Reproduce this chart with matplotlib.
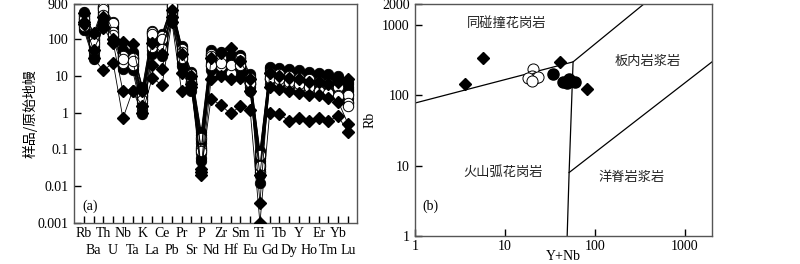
import matplotlib
matplotlib.use("Agg")
import matplotlib.pyplot as plt
from matplotlib.ticker import FixedLocator, NullLocator

plt.rcParams['font.family'] = ['Liberation Serif', 'Noto Sans CJK SC']
plt.rcParams['font.size'] = 10

# ---------------- data: panel (a) ----------------
elements = ["Rb", "Ba", "Th", "U", "Nb", "Ta", "K", "La", "Ce", "Pb", "Pr", "Sr", "P", "Nd",
            "Zr", "Hf", "Sm", "Eu", "Ti", "Gd", "Tb", "Dy", "Y", "Ho", "Er", "Tm", "Yb", "Lu"]

filled_circles = [
    [450, 120, 700, 250, 45, 40, 4.5, 150, 130, 800, 60, 12, 0.25, 45, 40, 35, 35, 10, 0.08, 16, 15, 14, 13, 12, 11, 10, 9, 6],
    [300, 60, 500, 180, 30, 28, 2.5, 100, 90, 600, 40, 8, 0.12, 30, 28, 25, 25, 7, 0.04, 12, 12, 11, 10, 9, 8, 7, 6, 4],
    [200, 35, 300, 120, 20, 18, 1.2, 50, 45, 400, 22, 5, 0.06, 18, 15, 13, 14, 5, 0.02, 8, 8, 7, 7, 6, 5, 4.5, 4, 2.5],
    [380, 90, 600, 220, 38, 35, 3.5, 120, 110, 700, 50, 10, 0.18, 38, 33, 30, 30, 8.5, 0.06, 14, 13, 12, 11, 10, 9, 8.5, 7.5, 5],
    [250, 45, 400, 150, 25, 22, 1.8, 70, 60, 500, 28, 6, 0.08, 22, 20, 17, 18, 6, 0.03, 10, 10, 9, 8.5, 7.5, 6.5, 6, 5, 3.2],
    [550, 140, 800, 300, 50, 45, 5, 170, 140, 850, 65, 13, 0.3, 50, 45, 38, 38, 11, 0.09, 17, 16, 15, 14, 13, 12, 11, 10, 7],
    [180, 28, 250, 100, 15, 14, 0.9, 40, 35, 300, 18, 4, 0.05, 14, 12, 11, 11, 4, 0.012, 6, 6, 5.5, 5.5, 5, 4.5, 4, 3.5, 2],
    [320, 70, 550, 200, 33, 30, 3, 90, 80, 650, 35, 9, 0.15, 28, 25, 22, 22, 7.5, 0.05, 13, 12, 11, 10, 9, 8, 7.5, 7, 4.5],
]
open_circles = [
    [420, 100, 750, 270, 35, 30, 2.8, 160, 120, 800, 55, 11, 0.2, 40, 30, 20, 30, 9, 0.07, 12, 11, 10, 9, 8, 7, 6, 5, 3],
    [230, 50, 650, 160, 22, 20, 1.5, 140, 100, 550, 45, 7, 0.1, 35, 18, 12, 25, 6, 0.025, 8, 7, 6, 5, 4.5, 4, 3.5, 3, 1.8],
    [350, 80, 450, 130, 28, 25, 2.2, 60, 55, 450, 30, 7, 0.09, 20, 22, 20, 20, 6.5, 0.035, 9, 8, 7, 6, 5, 4, 3.5, 2.8, 1.5],
]
diamonds = [
    [250, 30, 14, 23, 0.7, 4, 1, 9, 5.5, 300, 3.8, 6, 0.025, 2.4, 1.6, 0.95, 1.5, 1.2, 0.001, 1.0, 0.9, 0.6, 0.7, 0.6, 0.7, 0.6, 0.8, 0.3],
    [500, 150, 400, 100, 83, 73, 4, 80, 40, 600, 40, 10, 0.03, 30, 41, 57, 25, 8, 0.0035, 12, 10, 9, 8, 7, 7, 6, 7, 8],
    [300, 50, 200, 80, 3.8, 3.8, 1.5, 20, 15, 400, 12, 5, 0.02, 8, 10, 8, 9, 4, 0.02, 5, 4.5, 4, 3.5, 3, 3, 2.5, 2, 0.5],
]
a_yticks = [0.001, 0.01, 0.1, 1, 10, 100, 900]
a_yticklabels = ["0.001", "0.01", "0.1", "1", "10", "100", "900"]

# ---------------- data: panel (b) ----------------
b_diamond_x = [3.6, 5.7, 41, 81]
b_diamond_y = [146, 340, 299, 124]
b_filled_x = [34, 44, 52, 60, 49]
b_filled_y = [202, 155, 172, 155, 150]
b_open_x = [20.5, 20, 21.5, 18, 23, 20]
b_open_y = [238, 190, 178, 178, 183, 162]

# field boundaries (Y+Nb, Rb)
line1_x = [1, 57, 350]
line1_y = [78, 300, 2000]
line2_x = [57, 51.5, 49]
line2_y = [300, 8, 1]
line3_x = [51.5, 2000]
line3_y = [8, 300]
b_ticks = [1, 10, 100, 1000]
b_yticks = [1, 10, 100, 1000, 2000]

fig = plt.figure(figsize=(8, 2.64), dpi=100)

# ---------------- panel (a) ----------------
ax1 = fig.add_axes([0.0925, 0.155, 0.3535, 0.83])
xs = list(range(len(elements)))
for s in filled_circles:
    ax1.plot(xs, s, '-', color='black', lw=0.6, marker='o', ms=7.5,
             mfc='black', mec='black', mew=0.6, zorder=2)
for s in open_circles:
    ax1.plot(xs, s, '-', color='black', lw=0.6, marker='o', ms=7.5,
             mfc='white', mec='black', mew=0.7, zorder=3)
for s in diamonds:
    ax1.plot(xs, s, '-', color='black', lw=0.6, marker='D', ms=6,
             mfc='black', mec='black', zorder=4)
ax1.set_yscale('log')
ax1.set_ylim(0.001, 900)
ax1.set_xlim(-1.0, 27.9)
ax1.yaxis.set_major_locator(FixedLocator(a_yticks))
ax1.yaxis.set_minor_locator(NullLocator())
ax1.set_yticklabels(a_yticklabels)
even = xs[0::2]
odd = xs[1::2]
ax1.set_xticks(even)
ax1.set_xticklabels(elements[0::2])
ax1.set_xticks(odd, minor=True)
ax1.set_xticklabels(elements[1::2], minor=True)
ax1.tick_params(axis='both', which='both', direction='in', length=5, width=1,
                colors='black', labelsize=10)
ax1.tick_params(axis='x', which='major', pad=3)
ax1.tick_params(axis='x', which='minor', pad=15)
ax1.tick_params(axis='y', pad=4)
ax1.set_ylabel("样品/原始地幔", family=['Noto Sans CJK SC'], fontsize=10, labelpad=0)
ax1.text(0.03, 0.06, "(a)", transform=ax1.transAxes, fontsize=10)
for sp in ax1.spines.values():
    sp.set_color('#555555')
    sp.set_linewidth(1)

# ---------------- panel (b) ----------------
ax2 = fig.add_axes([0.519, 0.106, 0.371, 0.879])
ax2.plot(line1_x, line1_y, color='black', lw=0.9)
ax2.plot(line2_x, line2_y, color='black', lw=0.9)
ax2.plot(line3_x, line3_y, color='black', lw=0.9)
ax2.plot(b_diamond_x, b_diamond_y, 'D', ms=6.5, mfc='black', mec='black', zorder=4)
ax2.plot(b_filled_x, b_filled_y, 'o', ms=8, mfc='black', mec='black', zorder=4)
ax2.plot(b_open_x, b_open_y, 'o', ms=8, mfc='white', mec='black', mew=0.7, zorder=5)
ax2.set_xscale('log')
ax2.set_yscale('log')
ax2.set_xlim(1, 2000)
ax2.set_ylim(1, 2000)
ax2.xaxis.set_major_locator(FixedLocator(b_ticks))
ax2.xaxis.set_minor_locator(NullLocator())
ax2.yaxis.set_major_locator(FixedLocator(b_yticks))
ax2.yaxis.set_minor_locator(NullLocator())
ax2.set_xticklabels([str(t) for t in b_ticks])
ax2.set_yticklabels([str(t) for t in b_yticks])
ax2.tick_params(axis='both', direction='in', length=5, width=1, colors='black', labelsize=10)
ax2.tick_params(axis='x', pad=3)
ax2.tick_params(axis='y', pad=4)
ax2.set_xlabel("Y+Nb", fontsize=10, labelpad=-2.5)
ax2.set_ylabel("Rb", fontsize=10, labelpad=4)
cjk = ['Noto Sans CJK SC']
ax2.text(10.5, 1050, "同碰撞花岗岩", family=cjk, fontsize=9.5, ha='center', va='center', color='#222222')
ax2.text(390, 300, "板内岩浆岩", family=cjk, fontsize=9.5, ha='center', va='center', color='#222222')
ax2.text(9.5, 8, "火山弧花岗岩", family=cjk, fontsize=9.5, ha='center', va='center', color='#222222')
ax2.text(255, 6.8, "洋脊岩浆岩", family=cjk, fontsize=9.5, ha='center', va='center', color='#222222')
ax2.text(0.025, 0.115, "(b)", transform=ax2.transAxes, fontsize=10)
for sp in ax2.spines.values():
    sp.set_color('#555555')
    sp.set_linewidth(1)

fig.savefig("out.png", dpi=100)
